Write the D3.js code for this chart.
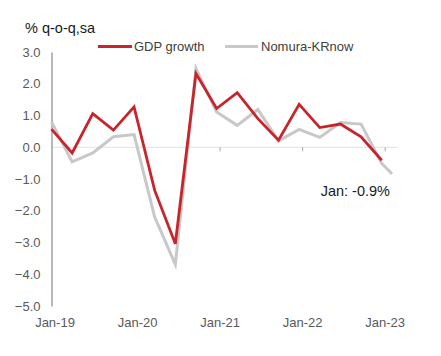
<!DOCTYPE html>
<html>
<head>
<meta charset="utf-8">
<script src="https://cdn.jsdelivr.net/npm/d3@7"></script>
<style>
  html, body { margin: 0; padding: 0; background: #fff; }
  svg { display: block; font-family: "Liberation Sans", Arial, sans-serif; }
</style>
</head>
<body>
<svg id="chart" width="441" height="356"></svg>
<script>
// Quarter index (0 = first point at Jan-19 axis position)
const gdpIndex = [0,1,2,3,4,5,6,7,8,9,10,11,12,13,14,15,16];
const gdpValues = [0.57,-0.18,1.06,0.54,1.27,-1.36,-3.04,2.32,1.22,1.72,0.9,0.22,1.35,0.62,0.73,0.33,-0.41];
const nowIndex = [0,1,2,3,4,5,6,7,8,9,10,11,12,13,14,15,16,16.5];
const nowValues = [0.8,-0.46,-0.18,0.33,0.40,-2.2,-3.69,2.48,1.11,0.69,1.19,0.2,0.56,0.31,0.78,0.73,-0.51,-0.84];
const xTickIndex = [0,4,8,12,16];
const xTickLabels = ["Jan-19","Jan-20","Jan-21","Jan-22","Jan-23"];
const yTicks = [3,2,1,0,-1,-2,-3,-4,-5];
const seriesNames = ["GDP growth","Nomura-KRnow"];
const annotation = "Jan: -0.9%";
const yTitle = "% q-o-q,sa";

const svg = d3.select("#chart");
const x = d3.scaleLinear().domain([0,16]).range([51.5,381.7]);
const y = d3.scaleLinear().domain([-5,3]).range([306,52]);
const RED = "#c8242b", GRAY = "#c8c8c8";

// zero line
svg.append("line")
  .attr("x1", x(0)).attr("x2", x(16.8))
  .attr("y1", y(0)).attr("y2", y(0))
  .attr("stroke", "#e2e2e2").attr("stroke-width", 1);

// x ticks on zero line
const xAxis = d3.axisBottom(x).tickValues(xTickIndex.slice(1)).tickSize(4).tickFormat("");
const gx = svg.append("g").attr("transform", `translate(3,${y(0)})`).call(xAxis);
gx.select(".domain").remove();
gx.selectAll(".tick line").attr("stroke", "#a6a6a6");

// x labels
svg.append("g").selectAll("text").data(xTickIndex).join("text")
  .attr("x", d => x(d) + 3.5).attr("y", 327)
  .attr("text-anchor", "middle").attr("font-size", 13).attr("fill", "#595959")
  .text((d,i) => xTickLabels[i]);

// y axis
const yAxis = d3.axisLeft(y).tickValues(yTicks).tickSize(0).tickPadding(11)
  .tickFormat(d => d3.format(".1f")(d));
const gy = svg.append("g").attr("transform", `translate(${x(0)},0)`).call(yAxis);
gy.select(".domain").attr("stroke", "#a0a0a0").attr("stroke-width", 1.5);
gy.selectAll(".tick text").attr("font-size", 13).attr("fill", "#595959")
  .attr("font-family", "Liberation Sans, Arial, sans-serif");

// lines
const line = (xs) => d3.line().x((d,i) => x(xs[i])).y(d => y(d));
svg.append("path").datum(nowValues)
  .attr("d", line(nowIndex)).attr("fill", "none")
  .attr("stroke", GRAY).attr("stroke-width", 3).attr("stroke-linejoin", "miter");
svg.append("path").datum(gdpValues)
  .attr("d", line(gdpIndex)).attr("fill", "none")
  .attr("stroke", RED).attr("stroke-width", 2.8).attr("stroke-linejoin", "miter");

// title
svg.append("text").attr("x", 25).attr("y", 33)
  .attr("font-size", 14.5).attr("fill", "#1a1a1a").text(yTitle);

// legend
const legend = [
  {name: seriesNames[0], color: RED, x1: 98, x2: 132, tx: 134},
  {name: seriesNames[1], color: GRAY, x1: 225, x2: 258, tx: 261}
];
const lg = svg.append("g");
legend.forEach(l => {
  lg.append("line").attr("x1", l.x1).attr("x2", l.x2).attr("y1", 46.5).attr("y2", 46.5)
    .attr("stroke", l.color).attr("stroke-width", 3);
  lg.append("text").attr("x", l.tx).attr("y", 51).attr("font-size", 13)
    .attr("fill", "#404040").text(l.name);
});

// annotation
svg.append("text").attr("x", 390).attr("y", 196).attr("text-anchor", "end")
  .attr("font-size", 14.5).attr("fill", "#1a1a1a").text(annotation);
</script>
</body>
</html>
